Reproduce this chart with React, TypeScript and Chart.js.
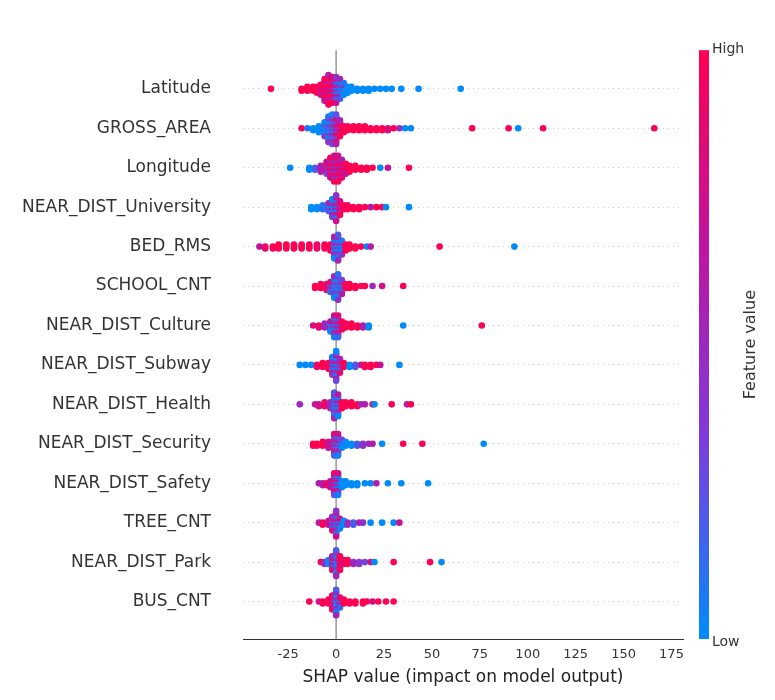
import React, { useEffect, useRef } from "react";
import { Chart, registerables } from "chart.js";
Chart.register(...registerables);

const features = ["Latitude","GROSS_AREA","Longitude","NEAR_DIST_University","BED_RMS","SCHOOL_CNT","NEAR_DIST_Culture","NEAR_DIST_Subway","NEAR_DIST_Health","NEAR_DIST_Security","NEAR_DIST_Safety","TREE_CNT","NEAR_DIST_Park","BUS_CNT"];
const xTicks = [-25, 0, 25, 50, 75, 100, 125, 150, 175];

// [shap value, number of stacked dots, feature value 0..1]
const latitude = [[-34,1,1],[-18,2,1],[-15,3,1],[-12,3,1],[-10,4,1],[-8,6,1],[-6,12,1],[-4,16,0.95],[-2,14,0.85],[0,14,0.4],[2,11,0.2],[4,7,0.1],[6,4,0],[8,3,0],[11,2,0],[14,2,0],[17,2,0],[20,1,0],[23,1,0],[26,1,0],[29,1,0],[34,1,0],[43,1,0],[65,1,0]];
const grossArea = [[-18,1,1],[-15,1,0.1],[-12,2,0],[-9,4,0],[-6,8,0],[-4,14,0.1],[-2,16,0.3],[0,16,0.6],[2,9,0.9],[4,4,1],[6,3,1],[9,3,1],[12,3,1],[15,3,1],[18,2,1],[21,2,1],[24,2,1],[27,2,0.8],[30,1,1],[33,1,0.5],[36,1,0],[39,1,0],[71,1,1],[90,1,1],[95,1,0],[108,1,1],[166,1,1]];
const longitude = [[-24,1,0],[-14,2,0],[-11,2,0.2],[-8,4,0.6],[-5,7,0.7],[-3,11,0.8],[-1,14,0.7],[1,14,0.8],[3,10,0.9],[5,6,1],[7,4,1],[10,3,1],[13,2,1],[16,2,1],[19,1,1],[23,1,0],[27,1,0.7],[38,1,1]];
const university = [[-13,2,0],[-10,2,0],[-7,3,0.1],[-4,5,0.2],[-2,10,0.3],[0,14,0.4],[2,8,0.8],[4,3,1],[6,3,1],[9,2,1],[12,2,1],[15,1,1],[18,1,0.6],[21,1,1],[24,1,1],[26,1,0],[38,1,0]];
const bedRms = [[-40,1,0.7],[-37,2,0.9],[-33,2,1],[-30,3,1],[-26,3,1],[-22,3,1],[-18,3,1],[-14,3,1],[-10,3,0.9],[-6,3,1],[-3,4,1],[-1,12,0.3],[1,14,0.2],[3,8,0.1],[5,4,1],[7,3,1],[10,2,1],[13,1,1],[16,1,0],[18,1,0.6],[54,1,1],[93,1,0]];
const schoolCnt = [[-11,2,1],[-8,3,1],[-5,4,0.9],[-3,6,0.5],[-1,12,0.2],[1,14,0.1],[3,8,0.3],[5,3,1],[7,3,1],[10,2,1],[13,1,1],[15,1,1],[19,1,0.5],[24,1,0.8],[35,1,1]];
const culture = [[-12,1,0.8],[-9,2,0.9],[-6,3,0.5],[-3,6,0.3],[-1,12,0.4],[1,12,0.5],[3,5,0.9],[5,3,1],[8,3,1],[11,2,1],[14,2,0.6],[17,2,0],[35,1,0],[76,1,1]];
const subway = [[-19,1,0],[-16,1,0],[-13,1,0],[-10,2,0.9],[-7,3,1],[-4,4,1],[-2,10,0.4],[0,16,0.3],[2,8,0.5],[4,3,1],[7,2,0],[10,2,0.2],[13,1,0.7],[15,2,1],[18,2,1],[21,1,1],[23,1,0.7],[33,1,0]];
const health = [[-19,1,0.5],[-11,1,0.6],[-9,2,0.8],[-6,3,0.9],[-3,4,0.5],[-1,14,0.2],[1,12,0.3],[3,4,1],[5,3,1],[8,3,1],[11,2,1],[13,1,0.5],[15,1,0.6],[19,1,1],[20,1,0],[29,1,1],[37,1,0.6],[39,1,1]];
const security = [[-12,2,1],[-10,2,1],[-7,3,1],[-4,4,0.7],[-1,12,0.5],[1,12,0.4],[3,5,0],[5,3,0],[8,2,0],[11,2,0.2],[14,2,0.4],[17,1,0.5],[19,1,0.6],[24,1,0],[35,1,1],[45,1,1],[77,1,0]];
const safety = [[-9,1,0.6],[-7,2,0.6],[-5,2,0.9],[-3,4,0.7],[-1,12,0.6],[1,12,0.4],[3,4,0],[5,3,0],[8,2,0],[11,2,0],[15,1,0],[18,1,0],[21,1,0.6],[27,1,0],[34,1,0],[48,1,0]];
const treeCnt = [[-9,1,0.6],[-7,2,1],[-4,3,0.7],[-2,8,0.5],[0,14,0.4],[2,6,0.4],[4,3,0],[6,2,0.5],[9,2,0.2],[12,1,0.6],[14,1,0.4],[18,1,0],[24,1,0],[30,1,0],[33,1,0.7]];
const park = [[-8,1,1],[-6,2,0.5],[-4,3,0],[-2,8,0.6],[0,14,0.2],[2,8,1],[4,3,0.9],[6,3,1],[9,2,0.5],[12,2,0.4],[15,1,0.3],[18,1,0.8],[20,1,0],[30,1,1],[49,1,1],[55,1,0]];
const busCnt = [[-14,1,1],[-9,1,0.7],[-7,2,1],[-4,3,1],[-2,8,0.9],[0,14,0.2],[2,6,0.5],[4,3,1],[7,2,1],[10,2,1],[14,2,1],[16,1,1],[19,1,0.8],[22,1,1],[26,1,1],[30,1,1]];
const rows = [latitude,grossArea,longitude,university,bedRms,schoolCnt,culture,subway,health,security,safety,treeCnt,park,busCnt];

const STOPS = [[0,139,251],[125,60,220],[190,20,160],[255,0,82]];
function colorOf(v: number) {
  const t = Math.max(0, Math.min(1, v)) * (STOPS.length - 1);
  const i = Math.min(STOPS.length - 2, Math.floor(t));
  const f = t - i;
  const c = STOPS[i].map((a, k) => Math.round(a + (STOPS[i + 1][k] - a) * f));
  return `rgb(${c[0]},${c[1]},${c[2]})`;
}

export default function App() {
  const ref = useRef<HTMLCanvasElement>(null);
  useEffect(() => {
    const pts: any[] = [];
    const cols: string[] = [];
    rows.forEach((row, r) => {
      row.forEach(([x, n, c]) => {
        for (let k = 0; k < n; k++) {
          const off = Math.ceil(k / 2) * (k % 2 ? 1 : -1) * 0.05;
          pts.push({ x, y: r + off });
          const cc = n > 4 ? (k % 3 === 1 ? Math.min(1, c + 0.35) : k % 3 === 2 ? Math.max(0, c - 0.35) : c) : c;
          cols.push(colorOf(cc));
        }
      });
    });
    const deco = {
      id: "deco",
      beforeDatasetsDraw(ch: any) {
        const { ctx, chartArea: a, scales } = ch;
        const x0 = scales.x.getPixelForValue(0);
        ctx.save();
        ctx.strokeStyle = "#999";
        ctx.lineWidth = 1.5;
        ctx.beginPath(); ctx.moveTo(x0, a.top); ctx.lineTo(x0, a.bottom); ctx.stroke();
        ctx.restore();
      },
      afterDraw(ch: any) {
        const { ctx, chartArea: a } = ch;
        const bx = a.right + 16, bw = 10;
        const g = ctx.createLinearGradient(0, a.bottom, 0, a.top);
        STOPS.forEach((s, i) => g.addColorStop(i / (STOPS.length - 1), `rgb(${s[0]},${s[1]},${s[2]})`));
        ctx.save();
        ctx.fillStyle = g;
        ctx.fillRect(bx, a.top, bw, a.bottom - a.top);
        ctx.fillStyle = "#333";
        ctx.font = "14px 'DejaVu Sans'";
        ctx.textBaseline = "middle";
        ctx.fillText("High", bx + 13, a.top - 1);
        ctx.fillText("Low", bx + 13, a.bottom + 3);
        ctx.translate(bx + 52, (a.top + a.bottom) / 2);
        ctx.rotate(-Math.PI / 2);
        ctx.textAlign = "center";
        ctx.font = "16px 'DejaVu Sans'";
        ctx.fillText("Feature value", 0, 0);
        ctx.restore();
      },
    };
    const chart = new Chart(ref.current!, {
      type: "scatter",
      data: { datasets: [{ data: pts, pointBackgroundColor: cols, pointBorderWidth: 0, pointRadius: 3.3 }] },
      options: {
        animation: false,
        responsive: false,
        layout: { padding: { top: -22, right: 84, bottom: 0 } },
        plugins: { legend: { display: false }, tooltip: { enabled: false } },
        scales: {
          x: {
            min: -48.6, max: 181,
            afterBuildTicks: (ax: any) => { ax.ticks = xTicks.map((v) => ({ value: v })); },
            grid: { display: false, drawTicks: true, tickLength: 5, tickColor: "#333" } as any,
            border: { display: true, color: "#333" },
            ticks: { color: "#333", font: { size: 13, family: "DejaVu Sans" } },
            title: { display: true, text: "SHAP value (impact on model output)", color: "#222", font: { size: 17, family: "DejaVu Sans" }, padding: { top: 2 } },
          },
          y: {
            reverse: true, min: -0.98, max: 13.95,
            afterBuildTicks: (ax: any) => { ax.ticks = features.map((_, i) => ({ value: i })); },
            afterFit: (ax: any) => { ax.width = 235; },
            border: { display: false, dash: [1, 4] },
            grid: { color: "#ccc", lineWidth: 1, drawTicks: false } as any,
            ticks: { padding: 32, color: "#333", font: { size: 17, family: "DejaVu Sans" }, callback: (v: any) => features[v] ?? "" },
          },
        },
      },
      plugins: [deco],
    } as any);
    return () => chart.destroy();
  }, []);
  return <canvas ref={ref} width={759} height={684} style={{ display: "block" }} />;
}
